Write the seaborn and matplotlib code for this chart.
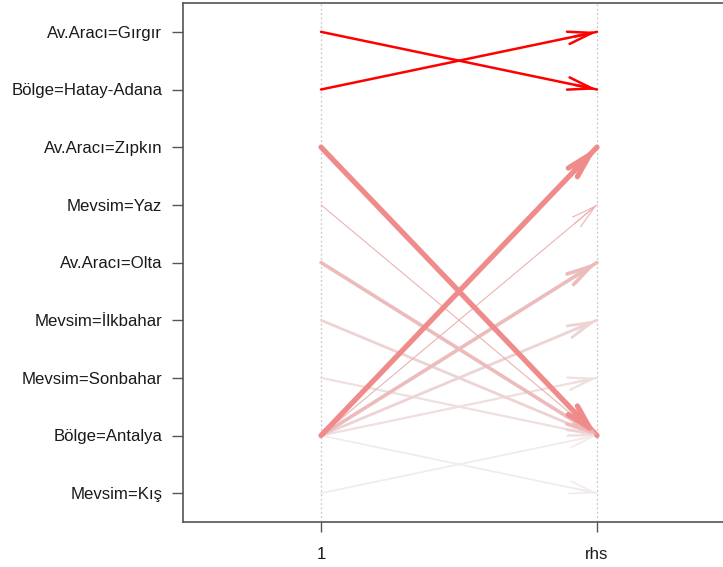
import matplotlib
matplotlib.use('Agg')
import matplotlib.pyplot as plt
import seaborn as sns
import pandas as pd
from matplotlib.colors import LinearSegmentedColormap, Normalize

# item labels on the y axis, from bottom (1) to top (9)
items = ["Mevsim=Kış", "Bölge=Antalya", "Mevsim=Sonbahar", "Mevsim=İlkbahar",
         "Av.Aracı=Olta", "Mevsim=Yaz", "Av.Aracı=Zıpkın",
         "Bölge=Hatay-Adana", "Av.Aracı=Gırgır"]
positions = ["1", "rhs"]

# rules: lhs item -> rhs item
lhs = ["Av.Aracı=Gırgır", "Bölge=Hatay-Adana",
       "Av.Aracı=Zıpkın", "Bölge=Antalya",
       "Mevsim=Yaz", "Bölge=Antalya",
       "Av.Aracı=Olta", "Bölge=Antalya",
       "Mevsim=İlkbahar", "Bölge=Antalya",
       "Mevsim=Sonbahar", "Bölge=Antalya",
       "Mevsim=Kış", "Bölge=Antalya"]
rhs = ["Bölge=Hatay-Adana", "Av.Aracı=Gırgır",
       "Bölge=Antalya", "Av.Aracı=Zıpkın",
       "Bölge=Antalya", "Mevsim=Yaz",
       "Bölge=Antalya", "Av.Aracı=Olta",
       "Bölge=Antalya", "Mevsim=İlkbahar",
       "Bölge=Antalya", "Mevsim=Sonbahar",
       "Bölge=Antalya", "Mevsim=Kış"]
support = [0.030, 0.030, 0.080, 0.080, 0.005, 0.005, 0.050, 0.050,
           0.035, 0.035, 0.025, 0.025, 0.015, 0.015]
lift = [5.0, 5.0, 2.0, 2.0, 1.6, 1.6, 1.5, 1.5,
        1.3, 1.3, 1.1, 1.1, 0.9, 0.9]

rows = []
for i, (a, b) in enumerate(zip(lhs, rhs)):
    rows.append({"rule": i, "pos": 1, "item": items.index(a) + 1,
                 "support": support[i], "lift": lift[i]})
    rows.append({"rule": i, "pos": 2, "item": items.index(b) + 1,
                 "support": support[i], "lift": lift[i]})
df = pd.DataFrame(rows)

sns.set_style("white")
plt.rcParams['font.family'] = ['Liberation Sans', 'DejaVu Sans']

cmap = LinearSegmentedColormap.from_list(
    "lift", [(0.0, "#f1ebeb"), (0.1, "#edd2d2"), (0.15, "#ecbaba"),
             (0.27, "#ef8a8a"), (1.0, "#ff0000")])
norm = Normalize(min(lift), max(lift))

fig = plt.figure(figsize=(7.23, 5.67), dpi=100)
ax = fig.add_axes([183 / 723, 45 / 567, 552 / 723, 519 / 567])

for x in (1, 2):
    ax.axvline(x, color="#c8c8c8", lw=0.9, ls=(0, (1.5, 2)), zorder=0)

# draw lighter rules first so the strong ones sit on top
order = sorted(df["rule"].unique(), key=lambda r: lift[r])
smin, smax = min(support), max(support)
for r in order:
    sub = df[df["rule"] == r]
    w = 0.8 + 3.0 * (support[r] - smin) / (smax - smin)
    col = cmap(norm(lift[r]))
    sns.lineplot(data=sub, x="pos", y="item", ax=ax, color=col, lw=w,
                 estimator=None, sort=False, legend=False,
                 solid_capstyle="round")
    y0 = items.index(lhs[r]) + 1
    y1 = items.index(rhs[r]) + 1
    t = 0.08
    ax.annotate("", xy=(2, y1), xytext=(2 - t, y1 - t * (y1 - y0)),
                arrowprops=dict(arrowstyle="->,head_length=1.75,head_width=0.45",
                                color=col, lw=w, shrinkA=0, shrinkB=0))

ax.set_xlim(0.5, 2.5)
ax.set_ylim(0.5, 9.5)
ax.set_xticks([1, 2])
ax.set_xticklabels(positions)
ax.set_yticks(range(1, len(items) + 1))
ax.set_yticklabels(items)
ax.set_xlabel("")
ax.set_ylabel("")
ax.tick_params(axis="y", length=8, width=1, color="#555555", pad=7,
               labelsize=12.1, labelcolor="#1a1a1a", left=True)
ax.tick_params(axis="x", length=7, width=1, color="#555555", pad=11,
               labelsize=12.1, labelcolor="#1a1a1a", bottom=True)
for s in ["left", "bottom", "top"]:
    ax.spines[s].set_color("#555555")
    ax.spines[s].set_linewidth(1.2)
ax.spines["right"].set_visible(False)

fig.savefig("out.png", dpi=100)
